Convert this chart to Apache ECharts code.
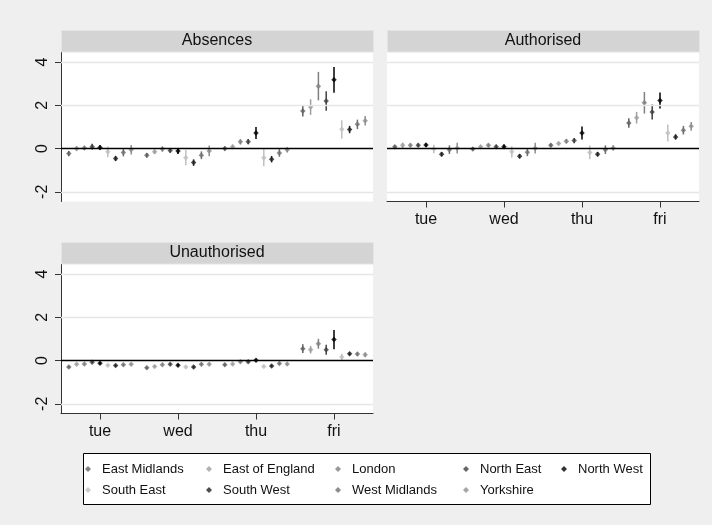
<!DOCTYPE html>
<html>
<head>
<meta charset="utf-8">
<script src="https://cdn.jsdelivr.net/npm/echarts@6/dist/echarts.min.js"></script>
<style>
html,body{margin:0;padding:0;background:#efefef;}
#chart{width:712px;height:525px;}
</style>
</head>
<body>
<div id="chart"></div>
<script>
// ---- data ----
const days = ['tue', 'wed', 'thu', 'fri'];
const regions = ['East Midlands', 'East of England', 'London', 'North East', 'North West',
                 'South East', 'South West', 'West Midlands', 'Yorkshire'];
const yTicks = [-2, 0, 2, 4];
const panelTitles = ['Absences', 'Authorised', 'Unauthorised'];

// estimates: one row per region, columns tue..fri
const absencesEst = [
  [-0.23, -0.31,  0.00, 1.74],
  [ 0.00, -0.15,  0.08, 1.92],
  [ 0.03, -0.02,  0.31, 2.89],
  [ 0.09, -0.09,  0.32, 2.20],
  [ 0.05, -0.11,  0.72, 3.18],
  [-0.15, -0.42, -0.42, 0.89],
  [-0.46, -0.65, -0.49, 0.88],
  [-0.18, -0.31, -0.20, 1.12],
  [-0.05, -0.11, -0.06, 1.29]
];
const absencesCI = [
  [0.12, 0.10, 0.10, 0.26],
  [0.12, 0.10, 0.10, 0.36],
  [0.10, 0.12, 0.12, 0.66],
  [0.13, 0.10, 0.12, 0.45],
  [0.10, 0.14, 0.28, 0.60],
  [0.25, 0.35, 0.40, 0.42],
  [0.12, 0.15, 0.15, 0.17],
  [0.18, 0.18, 0.18, 0.22],
  [0.22, 0.25, 0.12, 0.22]
];
const authorisedEst = [
  [ 0.08, -0.02,  0.15, 1.18],
  [ 0.15,  0.08,  0.23, 1.43],
  [ 0.15,  0.15,  0.34, 2.12],
  [ 0.15,  0.08,  0.37, 1.69],
  [ 0.17,  0.09,  0.72, 2.22],
  [-0.02, -0.15, -0.18, 0.72],
  [-0.26, -0.35, -0.26, 0.54],
  [-0.05, -0.17, -0.05, 0.85],
  [ 0.02,  0.02,  0.03, 1.03]
];
const authorisedCI = [
  [0.07, 0.07, 0.08, 0.22],
  [0.12, 0.08, 0.08, 0.27],
  [0.08, 0.08, 0.10, 0.50],
  [0.08, 0.10, 0.12, 0.35],
  [0.08, 0.10, 0.30, 0.37],
  [0.20, 0.26, 0.32, 0.39],
  [0.10, 0.10, 0.10, 0.12],
  [0.20, 0.18, 0.20, 0.20],
  [0.25, 0.25, 0.12, 0.20]
];
const unauthorisedEst = [
  [-0.30, -0.33, -0.19, 0.55],
  [-0.17, -0.27, -0.16, 0.50],
  [-0.16, -0.19, -0.05, 0.78],
  [-0.08, -0.17, -0.05, 0.50],
  [-0.12, -0.22,  0.02, 0.97],
  [-0.22, -0.30, -0.27, 0.16],
  [-0.23, -0.30, -0.25, 0.31],
  [-0.19, -0.17, -0.14, 0.30],
  [-0.17, -0.17, -0.16, 0.27]
];
const unauthorisedCI = [
  [0.06, 0.06, 0.06, 0.20],
  [0.06, 0.06, 0.06, 0.17],
  [0.06, 0.06, 0.06, 0.23],
  [0.06, 0.06, 0.06, 0.23],
  [0.06, 0.06, 0.06, 0.45],
  [0.06, 0.06, 0.06, 0.15],
  [0.06, 0.06, 0.06, 0.08],
  [0.06, 0.06, 0.06, 0.08],
  [0.06, 0.06, 0.06, 0.10]
];

// ---- styling ----
const regionColors = ['#606060', '#9f9f9f', '#808080', '#404040', '#000000',
                      '#bfbfbf', '#202020', '#707070', '#8f8f8f'];
const FONT = "'Liberation Sans', Arial, sans-serif";
const panels = [
  {est: absencesEst, ci: absencesCI, left: 61, top: 52, showX: false, showY: true},
  {est: authorisedEst, ci: authorisedCI, left: 387, top: 52, showX: true, showY: false},
  {est: unauthorisedEst, ci: unauthorisedCI, left: 61, top: 264, showX: true, showY: true}
];
const PW = 312, PH = 149.5, YMIN = -2.45, YMAX = 4.47, OFFSET = 0.1;

const grids = [], xAxes = [], yAxes = [], series = [], graphics = [];

panels.forEach((p, i) => {
  grids.push({left: p.left, top: p.top, width: PW, height: PH, containLabel: false,
    show: true, backgroundColor: '#ffffff', borderWidth: 0});
  xAxes.push({
    type: 'value', gridIndex: i, min: 0.5, max: 4.5,
    splitLine: {show: false},
    axisLine: {show: p.showX, onZero: false, lineStyle: {color: '#333', width: 1}},
    axisTick: {show: p.showX, customValues: [1, 2, 3, 4], length: 6, lineStyle: {color: '#333'}},
    axisLabel: {show: p.showX, customValues: [1, 2, 3, 4], margin: 10,
      formatter: v => days[Math.round(v) - 1] || '',
      fontFamily: FONT, fontSize: 16, color: '#111'}
  });
  yAxes.push({
    type: 'value', gridIndex: i, min: YMIN, max: YMAX,
    splitLine: {show: false},
    axisLine: {show: p.showY, onZero: false, lineStyle: {color: '#333', width: 1}},
    axisTick: {show: p.showY, customValues: yTicks, length: 6, lineStyle: {color: '#333'}},
    axisLabel: {show: p.showY, customValues: yTicks, rotate: 90, margin: 10,
      fontFamily: FONT, fontSize: 16, color: '#111'}
  });
  // reference lines: light grid + black zero line
  series.push({
    type: 'line', name: '', xAxisIndex: i, yAxisIndex: i, data: [], silent: true, z: 1,
    markLine: {
      silent: true, symbol: ['none', 'none'], label: {show: false}, animation: false,
      data: yTicks.filter(t => t !== 0).map(t => ({yAxis: t, lineStyle: {color: '#e6e6e6', width: 1.3, type: 'solid'}}))
        .concat([{yAxis: 0, lineStyle: {color: '#000', width: 1.3, type: 'solid'}}])
    }
  });
  // title bar
  graphics.push({type: 'rect', left: p.left, top: p.top - 22, shape: {width: PW, height: 21.5},
    style: {fill: '#d4d4d4', stroke: '#e4e4e4', lineWidth: 1}, z: 10});
  graphics.push({type: 'text', x: p.left + PW / 2, y: p.top - 11.2,
    style: {text: panelTitles[i], font: '16px ' + FONT, fill: '#111', textAlign: 'center', textVerticalAlign: 'middle'}, z: 11});
});

panels.forEach((p, i) => {
  regions.forEach((name, r) => {
    const color = regionColors[r];
    series.push({
      type: 'scatter', name: name, xAxisIndex: i, yAxisIndex: i, z: 4,
      symbol: 'diamond', symbolSize: 5.5,
      itemStyle: {color: color},
      data: days.map((d, j) => [j + 1 + (r - 4) * OFFSET, p.est[r][j]]),
      animation: false
    });
  });
});
panels.forEach((p, i) => {
  regions.forEach((name, r) => {
    const color = regionColors[r];
    series.push({
      type: 'custom', name: name, xAxisIndex: i, yAxisIndex: i, z: 3,
      itemStyle: {color: color},
      encode: {x: 0, y: [1, 2]},
      data: days.map((d, j) => [j + 1 + (r - 4) * OFFSET, p.est[r][j] - p.ci[r][j], p.est[r][j] + p.ci[r][j]]),
      renderItem: (params, api) => {
        const x = api.value(0);
        const a = api.coord([x, api.value(1)]);
        const b = api.coord([x, api.value(2)]);
        return {type: 'line', shape: {x1: a[0], y1: a[1], x2: b[0], y2: b[1]},
          style: {stroke: color, lineWidth: 1.5}};
      },
      animation: false
    });
  });
});

// legend box
graphics.push({type: 'rect', left: 83, top: 453, shape: {width: 567, height: 51},
  style: {fill: '#fff', stroke: '#000', lineWidth: 1}, z: -1});

const legendCols = [
  {left: 85, items: [regions[0], regions[5]]},
  {left: 206, items: [regions[1], regions[6]]},
  {left: 335, items: [regions[2], regions[7]]},
  {left: 463, items: [regions[3], regions[8]]},
  {left: 561, items: [regions[4]]}
];
const legends = legendCols.map(c => ({
  orient: 'vertical', left: c.left, top: 462, padding: 0,
  itemWidth: 6, itemHeight: 6, itemGap: 7, icon: 'diamond',
  data: c.items, selectedMode: false,
  textStyle: {fontFamily: FONT, fontSize: 13, color: '#111', lineHeight: 14, padding: [0, 0, 0, 6]}
}));

const chart = echarts.init(document.getElementById('chart'), null, {renderer: 'canvas'});
chart.setOption({
  backgroundColor: '#efefef',
  animation: false,
  grid: grids, xAxis: xAxes, yAxis: yAxes,
  legend: legends,
  graphic: graphics,
  series: series
});
</script>
</body>
</html>
